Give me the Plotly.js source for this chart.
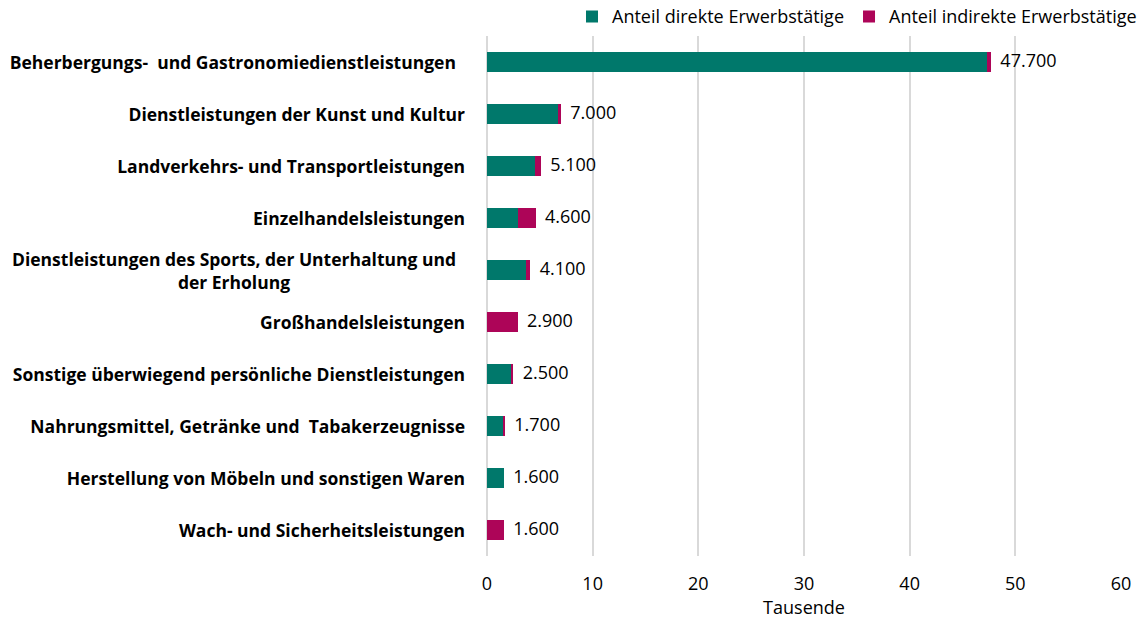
<!DOCTYPE html>
<html><head><meta charset="utf-8">
<script src="https://cdn.plot.ly/plotly-3.0.1.min.js"></script>
<style>html,body{margin:0;padding:0;background:#fff}#chart{width:1142px;height:620px}</style>
</head><body><div id="chart"></div>
<script>
const categories = [
  "Beherbergungs-  und Gastronomiedienstleistungen ",
  "Dienstleistungen der Kunst und Kultur",
  "Landverkehrs- und Transportleistungen",
  "Einzelhandelsleistungen",
  "Dienstleistungen des Sports, der Unterhaltung und<br>der Erholung",
  "Großhandelsleistungen",
  "Sonstige überwiegend persönliche Dienstleistungen",
  "Nahrungsmittel, Getränke und  Tabakerzeugnisse",
  "Herstellung von Möbeln und sonstigen Waren",
  "Wach- und Sicherheitsleistungen"
];
const direkt   = [47.3, 6.7, 4.55, 2.9, 3.65, 0, 2.25, 1.5, 1.6, 0];
const indirekt = [0.4, 0.3, 0.55, 1.7, 0.45, 2.9, 0.25, 0.2, 0, 1.6];
const totals   = [47.7, 7.0, 5.1, 4.6, 4.1, 2.9, 2.5, 1.7, 1.6, 1.6];
const totalLabels = ["47.700","7.000","5.100","4.600","4.100","2.900","2.500","1.700","1.600","1.600"];
const xTicks = [0,10,20,30,40,50,60];

const teal = "#00786B", pink = "#AD0558";
const FONT = "'Open Sans', sans-serif";
const traces = [
  {type:"bar", orientation:"h", name:"Anteil direkte Erwerbstätige", y:categories, x:direkt,
   marker:{color:teal}, hoverinfo:"x"},
  {type:"bar", orientation:"h", name:"Anteil indirekte Erwerbstätige", y:categories, x:indirekt,
   marker:{color:pink}, hoverinfo:"x"},
  {type:"scatter", mode:"text", y:categories, x:totals, text:totalLabels.map(t=>"  "+t),
   textposition:"middle right", textfont:{family:FONT, size:18, color:"#000"},
   showlegend:false, hoverinfo:"skip", cliponaxis:false}
];
const annotations = categories.map(c => ({
  xref:"paper", yref:"y", x:0, y:c, xanchor:"right", yanchor:"middle", xshift:-20,
  text:"<b>"+c.replace(/ +$/, m => "\u00a0".repeat(m.length*2))+"</b>",
  width:462, align: c.includes("<br>") ? "center" : "right", showarrow:false,
  font:{family:FONT, size:17.5, color:"#000"}
}));
const layout = {
  width:1142, height:620, barmode:"stack", bargap:0.6,
  margin:{l:487, r:21, t:36, b:64},
  paper_bgcolor:"#fff", plot_bgcolor:"#fff",
  font:{family:FONT, color:"#000"},
  xaxis:{range:[0,60], tickvals:xTicks, ticktext:xTicks.map(String), showgrid:true,
    gridcolor:"#d9d9d9", gridwidth:1.5, zeroline:true, zerolinecolor:"#d9d9d9", zerolinewidth:1.5,
    showline:false, ticks:"", tickfont:{size:18, color:"#000"}, ticklabelstandoff:15,
    title:{text:"Tausende", font:{size:18, color:"#000"}, standoff:0}},
  yaxis:{autorange:"reversed", type:"category", ticks:"", showgrid:false, showline:false,
    showticklabels:false},
  annotations:annotations,
  legend:{orientation:"h", xref:"container", x:1.0, xanchor:"right", yref:"container", y:0.973, yanchor:"middle",
    font:{size:18, color:"#000"}, traceorder:"normal", itemwidth:30},
  showlegend:true
};
Plotly.newPlot("chart", traces, layout, {displayModeBar:false});
</script></body></html>
